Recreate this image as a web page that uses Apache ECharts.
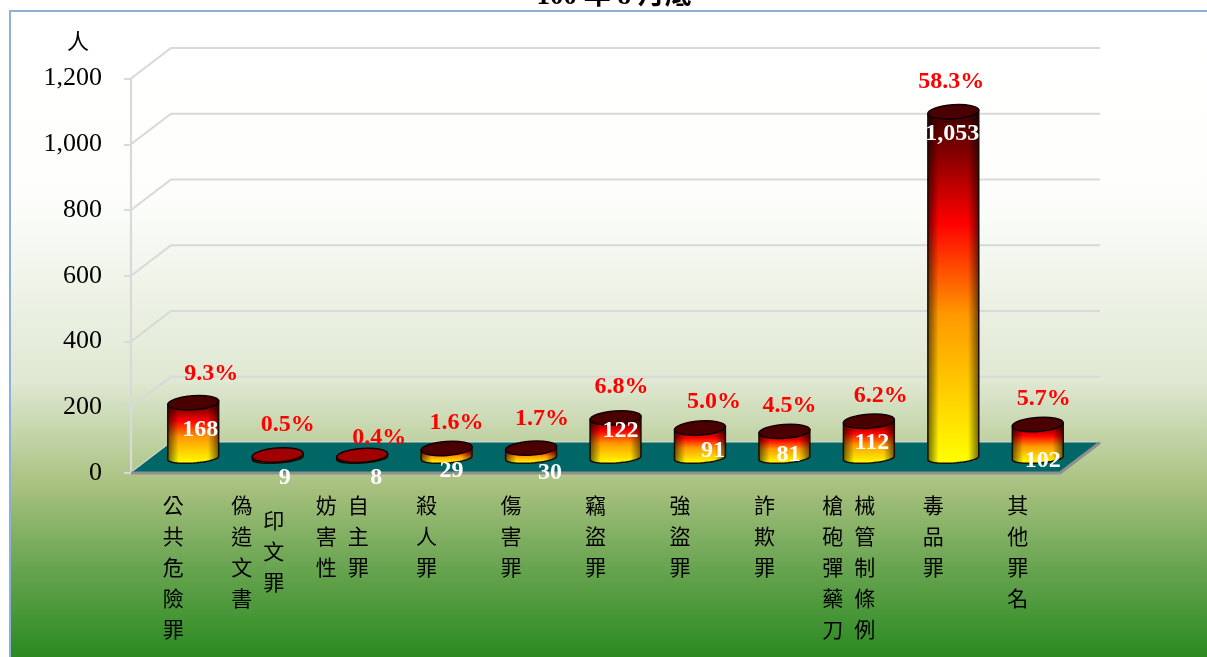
<!DOCTYPE html>
<html>
<head>
<meta charset="utf-8">
<style>
  html, body { margin: 0; padding: 0; background: #fff; }
  #chart { width: 1207px; height: 657px; }
</style>
<script src="https://cdn.jsdelivr.net/npm/echarts@6/dist/echarts.min.js"></script>
</head>
<body>
<div id="chart"></div>
<script>
const categories = ["公共危險罪", "偽造文書印文罪", "妨害性自主罪", "殺人罪", "傷害罪", "竊盜罪", "強盜罪", "詐欺罪", "槍砲彈藥刀械管制條例", "毒品罪", "其他罪名"];
const labelColumns = [["公共危險罪"], ["偽造文書", "印文罪"], ["妨害性", "自主罪"], ["殺人罪"], ["傷害罪"], ["竊盜罪"], ["強盜罪"], ["詐欺罪"], ["槍砲彈藥刀", "械管制條例"], ["毒品罪"], ["其他罪名"]];
const counts = [168, 9, 8, 29, 30, 122, 91, 81, 112, 1053, 102];
const shares = ["9.3%", "0.5%", "0.4%", "1.6%", "1.7%", "6.8%", "5.0%", "4.5%", "6.2%", "58.3%", "5.7%"];
const yTicks = [0, 200, 400, 600, 800, 1000, 1200];

// the labels were dragged around by hand in the original, so nudges per bar
const countNudge = [[7, 27], [7, 23], [14, 22], [5, 22], [19, 25], [5, 13], [13, 23], [4, 23], [3, 22], [-1, 22], [5, 36]];
const shareNudge = [[18, -29], [10, -30], [17, -18], [10, -26], [11, -29], [6, -31], [14, -26], [5, -26], [12, -25], [-2, -30], [6, -26]];

const depthX = 40, depthY = -30.5; // fake 3d depth of the wall
const backW = 929;
const barRx = 25.5, topRy = 7, bottomRy = 5, tilt = -0.07;
const serif = '"Liberation Serif", "Times New Roman", serif';
const cjk = '"Noto Sans CJK TC", serif';

function ellipsePoint(cx, cy, ry, t) {
  const ex = barRx * Math.cos(t), ey = ry * Math.sin(t);
  return [cx + ex * Math.cos(tilt) - ey * Math.sin(tilt), cy + ex * Math.sin(tilt) + ey * Math.cos(tilt)];
}

function renderWall(params, api) {
  const p = api.coord([0, api.value(0)]);
  const x0 = params.coordSys.x, y = p[1];
  return {
    type: "polyline",
    shape: { points: [[x0, y], [x0 + depthX, y + depthY], [x0 + depthX + backW, y + depthY]] },
    style: { stroke: "#d9d9d9", lineWidth: 2.2, fill: null }
  };
}

function renderFloor(params, api) {
  const x0 = params.coordSys.x, y = api.coord([0, 0])[1];
  const x1 = x0 + params.coordSys.width;
  return {
    type: "group",
    children: [
      {
        type: "polygon",
        shape: { points: [[x0, y], [x0 + depthX, y + depthY], [x0 + depthX + backW, y + depthY], [x1, y]] },
        style: { fill: "#006666" }
      },
      {
        type: "polyline",
        shape: { points: [[x0, y], [x1, y], [x0 + depthX + backW, y + depthY]] },
        style: { stroke: "#8f8f8f", lineWidth: 3, fill: null }
      }
    ]
  };
}

function renderBar(params, api) {
  const i = params.dataIndex;
  const v = api.value(1);
  const base = api.coord([i, 0]);
  const top = api.coord([i, v]);
  const cx = base[0] + depthX / 2, by = base[1] - 15, ty = top[1] - 15;
  const pts = [];
  pts.push(ellipsePoint(cx, ty, topRy, Math.PI));
  for (let a = Math.PI; a >= 0; a -= Math.PI / 24) pts.push(ellipsePoint(cx, by, bottomRy, a));
  pts.push(ellipsePoint(cx, ty, topRy, 0));
  const flat = v < 15;
  const children = [
    {
      type: "polygon",
      shape: { points: pts },
      style: {
        fill: flat ? "#8a4a10" : new echarts.graphic.LinearGradient(0, 0, 0, 1, [
          { offset: 0, color: "#3a0000" },
          { offset: 0.32, color: "#ff0000" },
          { offset: 0.58, color: "#ff9900" },
          { offset: 1, color: "#ffff00" }
        ])
      }
    },
    {
      type: "polygon",
      shape: { points: pts },
      style: {
        stroke: "#1a0c00",
        lineWidth: 1.5,
        fill: new echarts.graphic.LinearGradient(0, 0, 1, 0, [
          { offset: 0, color: "rgba(0,0,0,0.6)" },
          { offset: 0.22, color: "rgba(0,0,0,0)" },
          { offset: 0.78, color: "rgba(0,0,0,0)" },
          { offset: 1, color: "rgba(0,0,0,0.6)" }
        ])
      }
    },
    {
      type: "ellipse",
      x: cx, y: ty, rotation: -tilt,
      shape: { cx: 0, cy: 0, rx: barRx, ry: topRy },
      style: { fill: flat ? "#a00000" : "#4a0000", stroke: "#120000", lineWidth: 1.5 }
    },
    {
      type: "text",
      x: cx + countNudge[i][0], y: ty + countNudge[i][1],
      style: { text: api.value(1).toLocaleString("en-US"), fill: "#fff", font: "bold 24px " + serif, align: "center", verticalAlign: "middle" }
    },
    {
      type: "text",
      x: cx + shareNudge[i][0], y: ty + shareNudge[i][1],
      style: { text: shares[i], fill: "#ff0000", font: "bold 24px " + serif, align: "center", verticalAlign: "middle" }
    }
  ];
  return { type: "group", children: children };
}

// category names run vertically, one or two columns each
function renderNames(params, api) {
  const i = params.dataIndex;
  const x = api.coord([i, 0])[0];
  const cols = labelColumns[i];
  const rows = Math.max.apply(null, cols.map((c) => c.length));
  const children = [];
  cols.forEach((col, c) => {
    const colX = cols.length > 1 ? x + (c === 0 ? -16 : 16) : x;
    // shorter column is centred against the longer one, same-length blocks start at the top
    const startY = 505 + ((rows - col.length) * 31) / 2;
    col.split("").forEach((ch, r) => {
      children.push({
        type: "text",
        x: colX, y: startY + r * 31,
        style: { text: ch, fill: "#000", font: "21px " + cjk, align: "center", verticalAlign: "middle" }
      });
    });
  });
  return { type: "group", children: children };
}

const chart = echarts.init(document.getElementById("chart"));
chart.setOption({
  animation: false,
  title: {
    text: "100 年 8 月底",
    left: 609, top: -21,
    textAlign: "center",
    textStyle: { fontFamily: serif + ", " + cjk, fontSize: 27, fontWeight: "bold", color: "#000" }
  },
  graphic: [{
    type: "rect",
    z: -10,
    shape: { x: 10, y: 11, width: 1300, height: 700 },
    style: {
      stroke: "#8eb0d8",
      lineWidth: 2,
      fill: {
        type: "linear", x: 0, y: 0, x2: 0, y2: 657, global: true,
        colorStops: [
          { offset: 0, color: "#ffffff" },
          { offset: 0.3, color: "#fdfefc" },
          { offset: 0.58, color: "#dfe8d2" },
          { offset: 0.74, color: "#a8c17f" },
          { offset: 0.86, color: "#6aa552" },
          { offset: 1, color: "#2a8a20" }
        ]
      }
    }
  }],
  grid: { left: 131, width: 929, top: 78.5, height: 394.5 },
  xAxis: {
    type: "category",
    data: categories,
    axisLine: { show: false },
    axisTick: { show: false },
    axisLabel: { show: false }
  },
  yAxis: {
    type: "value",
    min: 0, max: 1200, interval: 200,
    name: "人",
    nameGap: 27,
    nameTextStyle: { fontFamily: cjk, fontSize: 22, color: "#000", padding: [0, 106, 0, 0] },
    axisLine: { show: true, lineStyle: { color: "#d9d9d9", width: 2.2 } },
    axisTick: { show: true, length: 7, lineStyle: { color: "#d9d9d9", width: 2 } },
    axisLabel: { margin: 29, fontFamily: serif, fontSize: 26, color: "#000", padding: [7, 0, 0, 0] },
    splitLine: { show: false }
  },
  series: [
    { type: "custom", renderItem: renderWall, data: yTicks.map((t) => [t]), encode: { y: 0 }, silent: true, clip: false, z: 1 },
    { type: "custom", renderItem: renderFloor, data: [[0]], silent: true, clip: false, z: 2 },
    { type: "custom", renderItem: renderBar, data: categories.map((c, i) => [i, counts[i]]), encode: { x: 0, y: 1 }, clip: false, z: 3 },
    { type: "custom", renderItem: renderNames, data: categories.map((c, i) => [i]), encode: { x: 0 }, silent: true, clip: false, z: 3 }
  ]
});
</script>
</body>
</html>
